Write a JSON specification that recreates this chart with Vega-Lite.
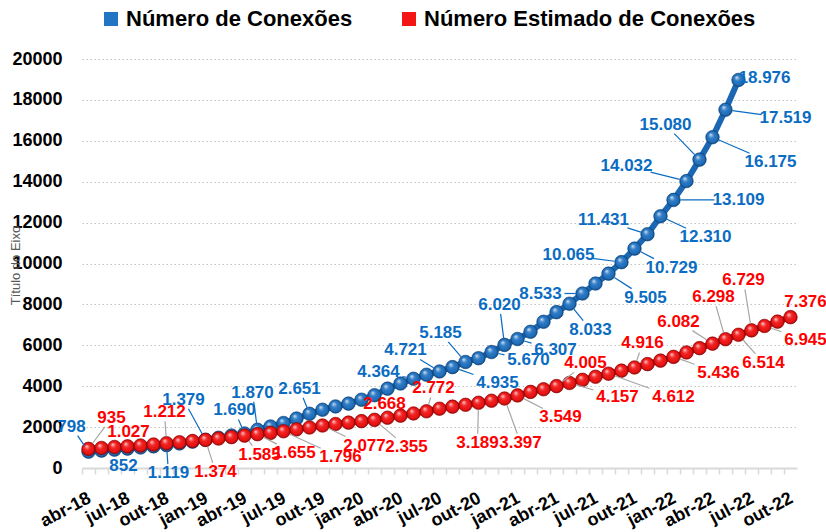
{
  "$schema": "https://vega.github.io/schema/vega-lite/v6.json",
  "autosize": "none",
  "width": 715,
  "height": 409,
  "padding": {"left": 82, "top": 59, "right": 29, "bottom": 64},
  "background": "white",
  "config": {
    "locale": {"number": {"decimal": ",", "thousands": ".", "grouping": [3], "currency": ["R$", ""]}},
    "view": {"stroke": null},
    "font": "Liberation Sans"
  },
  "params": [
    {"name": "bm", "value": ["abr-18","mai-18","out-18","jan-19","abr-19","mai-19","set-19","mai-20","jul-20","ago-20","set-20","nov-20","dez-20","jan-21","mai-21","jun-21","ago-21","set-21","out-21","nov-21","dez-21","jan-22","fev-22","mar-22","abr-22","mai-22","jun-22"]},
    {"name": "bdx", "value": [-17,22,2,-22,-10,-5,-10,-35,-34,45,-25,37,-5,38,21,-42,37,-53,37,-44,45,65,-60,-34,58,60,26]},
    {"name": "bdy", "value": [-25,15,28,-40,-23,-37,-25,-7,-21,16,-29,8,-40,11,26,0,24,-7,19,-14,21,0,-15,-35,25,8,-2]},
    {"name": "rm", "value": ["abr-18","jun-18","out-18","jan-19","abr-19","mai-19","jul-19","out-19","fev-20","mai-20","jun-20","out-20","dez-20","jan-21","abr-21","mai-21","ago-21","out-21","jan-22","abr-22","mai-22","jun-22","jul-22","ago-22","out-22"]},
    {"name": "rdx", "value": [23,14,-2,10,15,37,57,42,32,-29,7,-1,16,43,29,48,65,8,45,-34,-12,25,-8,41,15]},
    {"name": "rdy", "value": [-31,-15,-31,32,19,19,26,20,27,-9,-23,40,44,22,-23,14,23,-24,16,-22,-42,28,-50,14,-15]}
  ],
  "data": {
    "values": [
      {"mes": "abr-18", "conexoes": 798, "estimado": 935},
      {"mes": "mai-18", "conexoes": 852, "estimado": 980},
      {"mes": "jun-18", "conexoes": 900, "estimado": 1027},
      {"mes": "jul-18", "conexoes": 950, "estimado": 1060},
      {"mes": "ago-18", "conexoes": 1000, "estimado": 1100},
      {"mes": "set-18", "conexoes": 1060, "estimado": 1150},
      {"mes": "out-18", "conexoes": 1119, "estimado": 1212},
      {"mes": "nov-18", "conexoes": 1200, "estimado": 1260},
      {"mes": "dez-18", "conexoes": 1290, "estimado": 1320},
      {"mes": "jan-19", "conexoes": 1379, "estimado": 1374},
      {"mes": "fev-19", "conexoes": 1480, "estimado": 1440},
      {"mes": "mar-19", "conexoes": 1590, "estimado": 1510},
      {"mes": "abr-19", "conexoes": 1690, "estimado": 1585},
      {"mes": "mai-19", "conexoes": 1870, "estimado": 1655},
      {"mes": "jun-19", "conexoes": 2030, "estimado": 1720},
      {"mes": "jul-19", "conexoes": 2200, "estimado": 1796},
      {"mes": "ago-19", "conexoes": 2420, "estimado": 1890},
      {"mes": "set-19", "conexoes": 2651, "estimado": 1980},
      {"mes": "out-19", "conexoes": 2850, "estimado": 2077},
      {"mes": "nov-19", "conexoes": 3010, "estimado": 2150},
      {"mes": "dez-19", "conexoes": 3150, "estimado": 2220},
      {"mes": "jan-20", "conexoes": 3340, "estimado": 2290},
      {"mes": "fev-20", "conexoes": 3560, "estimado": 2355},
      {"mes": "mar-20", "conexoes": 3880, "estimado": 2460},
      {"mes": "abr-20", "conexoes": 4130, "estimado": 2560},
      {"mes": "mai-20", "conexoes": 4364, "estimado": 2668},
      {"mes": "jun-20", "conexoes": 4560, "estimado": 2772},
      {"mes": "jul-20", "conexoes": 4721, "estimado": 2900},
      {"mes": "ago-20", "conexoes": 4935, "estimado": 3000},
      {"mes": "set-20", "conexoes": 5185, "estimado": 3090},
      {"mes": "out-20", "conexoes": 5370, "estimado": 3189},
      {"mes": "nov-20", "conexoes": 5670, "estimado": 3290},
      {"mes": "dez-20", "conexoes": 6020, "estimado": 3397},
      {"mes": "jan-21", "conexoes": 6307, "estimado": 3549},
      {"mes": "fev-21", "conexoes": 6660, "estimado": 3720},
      {"mes": "mar-21", "conexoes": 7150, "estimado": 3850},
      {"mes": "abr-21", "conexoes": 7620, "estimado": 4005},
      {"mes": "mai-21", "conexoes": 8033, "estimado": 4157},
      {"mes": "jun-21", "conexoes": 8533, "estimado": 4310},
      {"mes": "jul-21", "conexoes": 9020, "estimado": 4460},
      {"mes": "ago-21", "conexoes": 9505, "estimado": 4612},
      {"mes": "set-21", "conexoes": 10065, "estimado": 4760},
      {"mes": "out-21", "conexoes": 10729, "estimado": 4916},
      {"mes": "nov-21", "conexoes": 11431, "estimado": 5080},
      {"mes": "dez-21", "conexoes": 12310, "estimado": 5250},
      {"mes": "jan-22", "conexoes": 13109, "estimado": 5436},
      {"mes": "fev-22", "conexoes": 14032, "estimado": 5650},
      {"mes": "mar-22", "conexoes": 15080, "estimado": 5860},
      {"mes": "abr-22", "conexoes": 16175, "estimado": 6082},
      {"mes": "mai-22", "conexoes": 17519, "estimado": 6298},
      {"mes": "jun-22", "conexoes": 18976, "estimado": 6514},
      {"mes": "jul-22", "conexoes": null, "estimado": 6729},
      {"mes": "ago-22", "conexoes": null, "estimado": 6945},
      {"mes": "set-22", "conexoes": null, "estimado": 7160},
      {"mes": "out-22", "conexoes": null, "estimado": 7376}
    ]
  },
  "transform": [{"fold": ["conexoes", "estimado"], "as": ["serie", "valor"]}],
  "encoding": {
    "x": {
      "field": "mes", "type": "ordinal", "sort": null,
      "scale": {"type": "point", "padding": 0.5},
      "axis": {
        "title": null,
        "labelExpr": "indexof(['abr','jul','out','jan'], slice(datum.value, 0, 3)) >= 0 ? datum.value : ''",
        "labelAngle": -28, "labelAlign": "right", "labelBaseline": "top",
        "labelFont": "Liberation Sans", "labelFontSize": 18, "labelFontWeight": "bold", "labelColor": "#000000",
        "labelPadding": 15, "labelOverlap": false, "labelBound": false,
        "domainColor": "#d9d9d9", "domainWidth": 2,
        "tickColor": "#d9d9d9", "tickWidth": 1.5, "tickSize": 6,
        "tickOffset": -6.5, "labelOffset": 3,
        "grid": false
      }
    },
    "y": {
      "field": "valor", "type": "quantitative",
      "scale": {"domain": [0, 20000], "nice": false},
      "axis": {
        "values": [0, 2000, 4000, 6000, 8000, 10000, 12000, 14000, 16000, 18000, 20000],
        "format": "d",
        "title": "Título do Eixo",
        "titleFont": "Liberation Sans", "titleFontSize": 13, "titleFontWeight": "normal", "titleColor": "#595959",
        "titleX": -67, "titleY": 206, "titleAngle": -90, "titleAlign": "center", "titleBaseline": "middle",
        "labelFont": "Liberation Sans", "labelFontSize": 18, "labelFontWeight": "bold", "labelColor": "#000000",
        "labelPadding": 20,
        "ticks": false, "domain": false,
        "grid": true, "gridDash": [1.5, 2.5], "gridColor": "#c4c4c4", "gridWidth": 1
      }
    }
  },
  "layer": [
    {
      "transform": [{"filter": "datum.serie == 'conexoes'"}],
      "mark": {"type": "line", "strokeWidth": 6, "color": "#1b67b3"}
    },
    {
      "transform": [{"filter": "datum.serie == 'conexoes'"}],
      "mark": {"type": "point", "filled": true, "size": 185, "opacity": 1, "stroke": "#0f4f8f", "strokeWidth": 0.6},
      "encoding": {
        "color": {
          "field": "serie", "type": "nominal",
          "scale": {"domain": ["conexoes", "estimado"], "range": ["#2274c4", "#f41515"]},
          "legend": {
            "orient": "none", "legendX": 18, "legendY": -51, "direction": "horizontal", "title": null,
            "symbolType": "square", "symbolSize": 196, "symbolStrokeWidth": 0, "symbolOpacity": 1,
            "labelFont": "Liberation Sans", "labelFontSize": 22, "labelFontWeight": "bold", "labelColor": "#000000",
            "labelOffset": 4, "columnPadding": 45, "labelLimit": 500,
            "labelExpr": "datum.label == 'conexoes' ? 'Número de Conexões' : 'Número Estimado de Conexões'"
          }
        }
      }
    },
    {
      "transform": [{"filter": "datum.serie == 'conexoes'"}],
      "mark": {"type": "point", "filled": true, "size": 185, "opacity": 1, "strokeWidth": 0,
        "fill": {"gradient": "radial", "x1": 0.35, "y1": 0.3, "r1": 0, "x2": 0.5, "y2": 0.5, "r2": 0.5,
          "stops": [{"offset": 0, "color": "rgba(255,255,255,0.85)"}, {"offset": 0.35, "color": "rgba(255,255,255,0.15)"}, {"offset": 0.75, "color": "rgba(0,0,0,0)"}, {"offset": 1, "color": "rgba(0,0,0,0.35)"}]}}
    },
    {
      "transform": [{"filter": "datum.serie == 'estimado'"}],
      "mark": {"type": "line", "strokeWidth": 6, "color": "#d90000"}
    },
    {
      "transform": [{"filter": "datum.serie == 'estimado'"}],
      "mark": {"type": "point", "filled": true, "size": 185, "opacity": 1, "stroke": "#a00000", "strokeWidth": 0.6},
      "encoding": {"color": {"field": "serie", "type": "nominal"}}
    },
    {
      "transform": [{"filter": "datum.serie == 'estimado'"}],
      "mark": {"type": "point", "filled": true, "size": 185, "opacity": 1, "strokeWidth": 0,
        "fill": {"gradient": "radial", "x1": 0.35, "y1": 0.3, "r1": 0, "x2": 0.5, "y2": 0.5, "r2": 0.5,
          "stops": [{"offset": 0, "color": "rgba(255,255,255,0.85)"}, {"offset": 0.35, "color": "rgba(255,255,255,0.15)"}, {"offset": 0.75, "color": "rgba(0,0,0,0)"}, {"offset": 1, "color": "rgba(0,0,0,0.35)"}]}}
    },
    {
      "transform": [{"filter": "datum.serie == 'conexoes' && indexof(bm, datum.mes) >= 0 && (abs(bdx[indexof(bm, datum.mes)]) > 30 || abs(bdy[indexof(bm, datum.mes)]) > 17)"}],
      "mark": {"type": "rule", "color": "#0a6cc2", "strokeWidth": 1.2,
        "xOffset": {"expr": "bdx[indexof(bm, datum.mes)] * 7 / sqrt(pow(bdx[indexof(bm, datum.mes)], 2) + pow(bdy[indexof(bm, datum.mes)], 2))"},
        "yOffset": {"expr": "bdy[indexof(bm, datum.mes)] * 7 / sqrt(pow(bdx[indexof(bm, datum.mes)], 2) + pow(bdy[indexof(bm, datum.mes)], 2))"},
        "x2Offset": {"expr": "bdx[indexof(bm, datum.mes)] * (1 - min(24 / abs(bdx[indexof(bm, datum.mes)]), 9 / abs(bdy[indexof(bm, datum.mes)])))"},
        "y2Offset": {"expr": "bdy[indexof(bm, datum.mes)] * (1 - min(24 / abs(bdx[indexof(bm, datum.mes)]), 9 / abs(bdy[indexof(bm, datum.mes)])))"}
      },
      "encoding": {"x2": {"field": "mes"}, "y2": {"field": "valor"}}
    },
    {
      "transform": [{"filter": "datum.serie == 'estimado' && indexof(rm, datum.mes) >= 0 && (abs(rdx[indexof(rm, datum.mes)]) > 30 || abs(rdy[indexof(rm, datum.mes)]) > 17)"}],
      "mark": {"type": "rule", "color": "#a6a6a6", "strokeWidth": 1.2,
        "xOffset": {"expr": "rdx[indexof(rm, datum.mes)] * 7 / sqrt(pow(rdx[indexof(rm, datum.mes)], 2) + pow(rdy[indexof(rm, datum.mes)], 2))"},
        "yOffset": {"expr": "rdy[indexof(rm, datum.mes)] * 7 / sqrt(pow(rdx[indexof(rm, datum.mes)], 2) + pow(rdy[indexof(rm, datum.mes)], 2))"},
        "x2Offset": {"expr": "rdx[indexof(rm, datum.mes)] * (1 - min(24 / abs(rdx[indexof(rm, datum.mes)]), 9 / abs(rdy[indexof(rm, datum.mes)])))"},
        "y2Offset": {"expr": "rdy[indexof(rm, datum.mes)] * (1 - min(24 / abs(rdx[indexof(rm, datum.mes)]), 9 / abs(rdy[indexof(rm, datum.mes)])))"}
      },
      "encoding": {"x2": {"field": "mes"}, "y2": {"field": "valor"}}
    },
    {
      "transform": [{"filter": "datum.serie == 'conexoes' && indexof(bm, datum.mes) >= 0"}],
      "mark": {"type": "text", "font": "Liberation Sans", "fontSize": 17, "fontWeight": "bold", "color": "#0a6cc2",
        "align": "center", "baseline": "middle",
        "dx": {"expr": "bdx[indexof(bm, datum.mes)]"},
        "dy": {"expr": "bdy[indexof(bm, datum.mes)]"}
      },
      "encoding": {"text": {"field": "valor", "type": "quantitative", "format": ",d"}}
    },
    {
      "transform": [{"filter": "datum.serie == 'estimado' && indexof(rm, datum.mes) >= 0"}],
      "mark": {"type": "text", "font": "Liberation Sans", "fontSize": 17, "fontWeight": "bold", "color": "#ff0000",
        "align": "center", "baseline": "middle",
        "dx": {"expr": "rdx[indexof(rm, datum.mes)]"},
        "dy": {"expr": "rdy[indexof(rm, datum.mes)]"}
      },
      "encoding": {"text": {"field": "valor", "type": "quantitative", "format": ",d"}}
    }
  ]
}
